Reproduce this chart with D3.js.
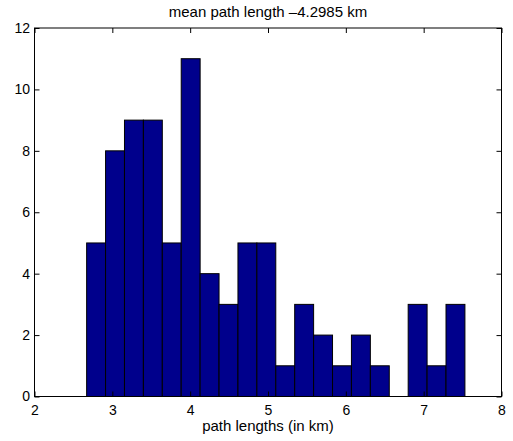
<!DOCTYPE html>
<html>
<head>
<meta charset="utf-8">
<script src="https://cdn.jsdelivr.net/npm/d3@7"></script>
<style>
    body { margin: 0; background: #fff; }
    .chart text { font-family: "Liberation Sans", Arial, sans-serif; fill: #000; }
</style>
</head>
<body>
<svg class="chart"></svg>
<script>
// histogram counts, 20 equal bins between binLow and binHigh (km)
var counts = [5, 8, 9, 9, 5, 11, 4, 3, 5, 5, 1, 3, 2, 1, 2, 1, 0, 3, 1, 3];
var binLow = 2.67;
var binHigh = 7.53;
var xTicks = [2, 3, 4, 5, 6, 7, 8];
var yTicks = [0, 2, 4, 6, 8, 10, 12];
var titleText = "mean path length \u20134.2985 km";
var xLabelText = "path lengths (in km)";

var outerSize = {width: 513, height: 441};
var margin = {top: 28, right: 11.5, bottom: 44.5, left: 34.5};
var innerSize = {width: outerSize.width - margin.left - margin.right,
    height: outerSize.height - margin.top - margin.bottom};
var tickFontSize = "14px";
var labelFontSize = "15px";

var svg = d3.select(".chart")
        .attr("width", outerSize.width)
        .attr("height", outerSize.height);
var chart = svg.append("g")
        .attr("transform", "translate(" + margin.left + "," + margin.top + ")");

var xRange = d3.scaleLinear().domain([2, 8]).range([0, innerSize.width]);
var yRange = d3.scaleLinear().domain([0, 12]).range([innerSize.height, 0]);

var binWidth = (binHigh - binLow) / counts.length;
var bins = counts.map(function (c, i) {
    return {x0: binLow + i * binWidth, x1: binLow + (i + 1) * binWidth, count: c};
});

chart.selectAll(".bar")
        .data(bins)
        .enter().append("rect")
        .attr("class", "bar")
        .attr("x", function (d) { return xRange(d.x0); })
        .attr("width", function (d) { return xRange(d.x1) - xRange(d.x0); })
        .attr("y", function (d) { return yRange(d.count); })
        .attr("height", function (d) { return innerSize.height - yRange(d.count); })
        .attr("fill", "#00008c")
        .attr("stroke", "#000")
        .attr("stroke-width", 1);

// axes, matlab style: ticks pointing inwards on all four sides
function styleAxis(g) {
    g.select(".domain").remove();
    g.selectAll("line").attr("stroke", "#000");
    g.selectAll("text").style("font-size", tickFontSize);
}
var fmt = d3.format("d");
chart.append("g")
        .attr("transform", "translate(0," + innerSize.height + ")")
        .call(d3.axisBottom(xRange).tickValues(xTicks).tickFormat(fmt).tickSizeInner(-5).tickPadding(8.5))
        .call(styleAxis);
chart.append("g")
        .call(d3.axisTop(xRange).tickValues(xTicks).tickSizeInner(-5).tickFormat(""))
        .call(styleAxis);
chart.append("g")
        .call(d3.axisLeft(yRange).tickValues(yTicks).tickFormat(fmt).tickSizeInner(-5).tickPadding(4.5))
        .call(styleAxis);
chart.append("g")
        .attr("transform", "translate(" + innerSize.width + ",0)")
        .call(d3.axisRight(yRange).tickValues(yTicks).tickSizeInner(-5).tickFormat(""))
        .call(styleAxis);

chart.append("rect")
        .attr("width", innerSize.width)
        .attr("height", innerSize.height)
        .attr("fill", "none")
        .attr("stroke", "#000");

chart.append("text")
        .attr("x", innerSize.width / 2)
        .attr("y", -11)
        .style("text-anchor", "middle")
        .style("font-size", labelFontSize)
        .text(titleText);

chart.append("text")
        .attr("x", innerSize.width / 2)
        .attr("y", innerSize.height + 34)
        .style("text-anchor", "middle")
        .style("font-size", labelFontSize)
        .text(xLabelText);
</script>
</body>
</html>
